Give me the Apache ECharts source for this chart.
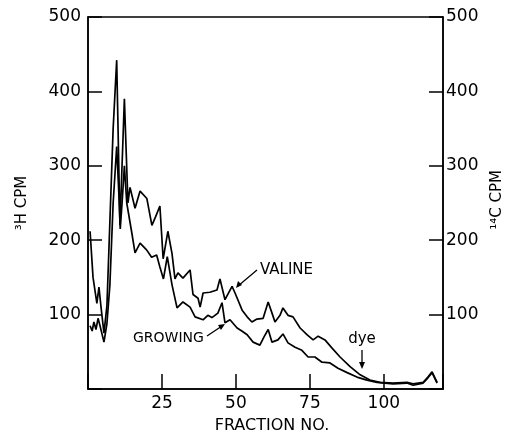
<!DOCTYPE html>
<html>
<head>
<meta charset="utf-8">
<script src="https://cdn.jsdelivr.net/npm/echarts@6/dist/echarts.min.js"></script>
<style>
  html, body { margin: 0; padding: 0; background: #fff; }
  #chart { width: 510px; height: 436px; }
</style>
</head>
<body>
<div id="chart"></div>
<script>
// fraction no. vs counts per minute
const valine = [
  [0.7, 212], [1.7, 150], [3.0, 115], [3.7, 137], [4.4, 110], [5.4, 75], [6.4, 112],
  [7.4, 225], [8.5, 350], [9.7, 442], [10.8, 220], [12.3, 390], [13.5, 250], [14.2, 271],
  [15.9, 243], [17.6, 266], [19.9, 256], [21.6, 220], [22.9, 232], [24.3, 246], [25.4, 175],
  [27.0, 212], [28.4, 182], [29.4, 148], [30.4, 156], [32.1, 149], [34.5, 160], [35.5, 127],
  [37.2, 122], [37.9, 110], [38.9, 129], [41.2, 130], [43.6, 133], [44.6, 148], [46.3, 120],
  [48.7, 138], [49.7, 129], [52.1, 106], [53.8, 97], [55.4, 90], [57.1, 94], [59.2, 95],
  [60.9, 117], [62.2, 102], [63.2, 90], [64.9, 99], [65.9, 109], [67.6, 99], [69.3, 97],
  [71.7, 82], [74.0, 73], [76.1, 66], [77.8, 71], [80.1, 66], [82.5, 55], [85.2, 43],
  [88.6, 30], [92.0, 19], [95.3, 12], [98.7, 9], [103.1, 8], [107.8, 9], [109.9, 7],
  [113.3, 9], [114.9, 16], [116.3, 23], [118.0, 9]
];
const growing = [
  [0.7, 85], [1.4, 78], [2.0, 90], [2.7, 80], [3.4, 95], [4.0, 86], [5.4, 63], [6.4, 88],
  [7.4, 140], [8.5, 250], [9.7, 326], [10.4, 265], [10.9, 215], [11.6, 255], [12.3, 300],
  [13.1, 250], [14.8, 210], [15.9, 183], [17.6, 196], [19.8, 187], [21.5, 177], [23.2, 180],
  [24.3, 164], [25.5, 148], [26.8, 178], [28.4, 140], [30.1, 109], [32.1, 117], [34.5, 110],
  [36.2, 97], [38.9, 93], [40.5, 99], [41.9, 96], [43.9, 102], [45.3, 116], [46.3, 89],
  [48.0, 93], [50.4, 82], [52.0, 78], [53.8, 73], [55.8, 63], [58.1, 59], [59.5, 70],
  [60.9, 80], [62.2, 63], [64.2, 66], [65.9, 74], [67.6, 62], [70.0, 56], [72.3, 52],
  [74.4, 43], [76.7, 43], [79.1, 36], [81.8, 35], [84.5, 28], [87.6, 22], [90.9, 16],
  [94.3, 12], [97.7, 9], [103.1, 7], [107.8, 8], [109.9, 5], [113.3, 8], [114.9, 15],
  [116.3, 22], [118.0, 8]
];
const xTicks = [25, 50, 75, 100];
const yTicks = [100, 200, 300, 400, 500];

const font = 'DejaVu Sans';
let myChart = echarts.init(document.getElementById('chart'));

function yAxisDef(pos, margin) {
  return {
    type: 'value',
    position: pos,
    min: 0,
    max: 500,
    interval: 100,
    splitLine: { show: false },
    axisLine: { show: true, lineStyle: { color: '#000', width: 1.5 } },
    axisTick: { show: true, inside: true, length: 14, lineStyle: { color: '#000', width: 1.5 } },
    axisLabel: {
      color: '#000', fontSize: 17, fontFamily: font, margin: margin,
      formatter: function(v) { return yTicks.indexOf(v) >= 0 ? String(v) : ''; }
    }
  };
}

let option = {
  backgroundColor: '#fff',
  animation: false,
  grid: { left: 88, right: 67, top: 17, bottom: 47, show: true, borderColor: '#000', borderWidth: 1.5 },
  xAxis: {
    type: 'value',
    min: 0,
    max: 120,
    interval: 25,
    splitLine: { show: false },
    axisLine: { show: true, lineStyle: { color: '#000', width: 1.5 } },
    axisTick: { show: true, inside: true, length: 15, lineStyle: { color: '#000', width: 1.5 } },
    axisLabel: {
      color: '#000', fontSize: 17, fontFamily: font, margin: 6,
      formatter: function(v) { return xTicks.indexOf(v) >= 0 ? String(v) : ''; }
    }
  },
  yAxis: [yAxisDef('left', 7), yAxisDef('right', 3)],
  series: [
    {
      name: 'VALINE', type: 'line', yAxisIndex: 1, data: valine, symbol: 'none',
      lineStyle: { color: '#000', width: 1.7 }
    },
    {
      name: 'GROWING', type: 'line', yAxisIndex: 0, data: growing, symbol: 'none',
      lineStyle: { color: '#000', width: 1.7 }
    }
  ],
  graphic: [
    // axis titles
    { type: 'text', x: 22, y: 203, rotation: Math.PI / 2,
      style: { text: '³H CPM', fill: '#000', font: '15px "DejaVu Sans"', align: 'center', verticalAlign: 'middle' } },
    { type: 'text', x: 497, y: 200, rotation: Math.PI / 2,
      style: { text: '¹⁴C CPM', fill: '#000', font: '15px "DejaVu Sans"', align: 'center', verticalAlign: 'middle' } },
    { type: 'text', x: 272, y: 426,
      style: { text: 'FRACTION NO.', fill: '#000', font: '16px "DejaVu Sans"', align: 'center', verticalAlign: 'middle' } },
    // annotations
    { type: 'text', x: 260, y: 270,
      style: { text: 'VALINE', fill: '#000', font: '15px "DejaVu Sans"', align: 'left', verticalAlign: 'middle' } },
    { type: 'line', shape: { x1: 257, y1: 270, x2: 238, y2: 286 }, style: { stroke: '#000', lineWidth: 1.3 } },
    { type: 'polygon', shape: { points: [[236, 288], [238, 281], [242, 285]] }, style: { fill: '#000' } },
    { type: 'text', x: 133, y: 338,
      style: { text: 'GROWING', fill: '#000', font: '14px "DejaVu Sans"', align: 'left', verticalAlign: 'middle' } },
    { type: 'line', shape: { x1: 207, y1: 336, x2: 222, y2: 326 }, style: { stroke: '#000', lineWidth: 1.3 } },
    { type: 'polygon', shape: { points: [[225, 324], [218, 325], [221, 330]] }, style: { fill: '#000' } },
    { type: 'text', x: 362, y: 339,
      style: { text: 'dye', fill: '#000', font: '15px "DejaVu Sans"', align: 'center', verticalAlign: 'middle' } },
    { type: 'line', shape: { x1: 362, y1: 350, x2: 362, y2: 366 }, style: { stroke: '#000', lineWidth: 1.3 } },
    { type: 'polygon', shape: { points: [[362, 369], [359, 362], [365, 362]] }, style: { fill: '#000' } }
  ]
};
myChart.setOption(option);
</script>
</body>
</html>
